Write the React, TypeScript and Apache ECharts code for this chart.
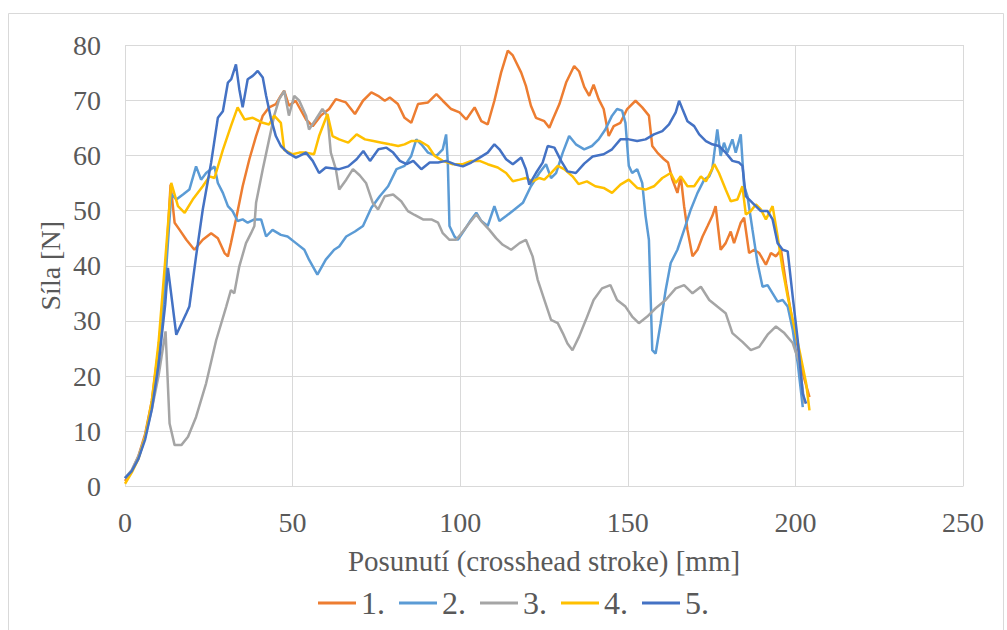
import React, { useEffect, useRef } from "react";
import * as echarts from "echarts";

// Crosshead stroke [mm] / force [N] readings for the five specimens
const x1 = [0, 2, 4, 6, 8, 10, 12, 13.6, 14.8, 16.3, 18.3, 20.7, 23.2, 25.7, 27.7, 29.7, 30.7, 31.6, 33.1, 35.1, 37.1, 39.1, 41.1, 43, 45, 46.5, 47.5, 48.9, 50.9, 54, 56, 58.4, 60.9, 62.9, 65.9, 68.6, 71, 73.5, 75.5, 77.5, 79, 81.4, 83.4, 85.4, 87.4, 90.4, 92.9, 94.8, 97.3, 99.8, 101.8, 104.3, 106.3, 108.2, 110.2, 112.2, 114.2, 115.7, 118.2, 119.6, 121.1, 122.6, 125.1, 126.6, 127.6, 129.6, 131.6, 134, 135.5, 137, 138.5, 139.8, 141.3, 142.8, 144.3, 145.8, 147.8, 149.8, 152.3, 154.3, 156.3, 157.3, 158.8, 160.8, 162, 163.3, 164.8, 165.8, 166.8, 167.8, 169.3, 170.8, 172.3, 173.8, 175.2, 176.2, 177.7, 179.2, 180.7, 181.7, 183.7, 184.7, 186.2, 187.7, 189.2, 191.2, 192.7, 194.2, 195.7, 197.2, 198.7, 200.7, 202.2, 204.2];
const y1 = [1, 2.8, 5.5, 9.5, 15.5, 25, 38, 54.7, 47.8, 46.5, 44.7, 42.9, 44.7, 45.9, 45, 42.3, 41.7, 44.1, 48.4, 54.4, 59.3, 63.5, 67.2, 68.7, 69.3, 70.8, 71.7, 69, 69.9, 66.5, 65.3, 67.2, 68.4, 70.2, 69.6, 67.5, 69.9, 71.4, 70.8, 69.9, 70.5, 69.3, 66.8, 65.9, 69.3, 69.6, 71.1, 69.9, 68.4, 67.8, 66.5, 68.7, 66.2, 65.6, 69.9, 75, 79, 78.1, 75, 72.6, 69, 66.8, 66.2, 65, 66.5, 69.3, 73.2, 76.2, 75.2, 72.4, 70.8, 72.8, 70.2, 68.4, 63.5, 65.3, 65.9, 68.4, 69.9, 68.7, 67.2, 61.7, 60.5, 59.3, 58.7, 55.6, 53.2, 56.2, 50.8, 46.5, 41.7, 42.9, 45.3, 47.2, 49, 50.8, 42.9, 44.1, 46.2, 44.1, 47.8, 48.7, 42.3, 42.9, 42.3, 40.2, 42.3, 41.7, 42.9, 36.8, 31.4, 25.3, 20.5, 16.2];

const x2 = [0, 2, 4, 6, 8, 10, 12, 13.8, 15.3, 17.3, 19.2, 21.2, 22.7, 24.2, 26.7, 27.7, 29.2, 30.7, 32.1, 33.6, 35.1, 36.6, 38.6, 40.6, 42.1, 44, 46.5, 48.5, 51, 53.5, 54.9, 57.4, 59.9, 62.4, 63.9, 66, 68.6, 71, 73.5, 76, 78.5, 81, 83.4, 85.4, 86.9, 88.4, 90.4, 92.9, 94.8, 95.8, 96.3, 96.8, 98.3, 99.3, 101.3, 103.3, 104.8, 106.3, 108.2, 110.2, 111.7, 113.7, 116.2, 118.7, 121.1, 123.6, 125.6, 127.1, 128.6, 130.6, 132.5, 134.5, 137, 139.3, 141.3, 143.3, 145.3, 146.8, 148.3, 149.3, 150.3, 151.3, 152.8, 154.3, 155.3, 156.3, 157.3, 158.3, 159.8, 161.3, 162.8, 164.8, 166.8, 168.8, 170.8, 172.8, 174.3, 175.2, 176.7, 177.7, 178.7, 179.7, 181.2, 182.2, 183.7, 184.7, 185.7, 187.2, 188.7, 190.2, 191.7, 193.2, 194.7, 196.2, 197.7, 199.2, 200.7, 202.2];
const y2 = [1.5, 2.8, 5.2, 9, 15, 24, 37, 53, 52, 52.9, 53.8, 58, 55.6, 56.8, 58, 55, 53.2, 50.8, 49.9, 48.1, 48.4, 47.8, 48.4, 48.4, 45.3, 46.5, 45.6, 45.3, 44.1, 42.9, 41.1, 38.4, 41.1, 42.9, 43.5, 45.3, 46.2, 47.2, 50.5, 52.6, 54.4, 57.5, 58.1, 59.9, 62.9, 62, 60.5, 59.9, 61.1, 63.8, 58.7, 47.2, 45.3, 44.7, 46.5, 48.4, 49.6, 48.1, 47.2, 50.8, 48.1, 49, 50.2, 51.4, 54.4, 56.8, 58.4, 55.9, 56.8, 60.5, 63.5, 62, 61.1, 61.7, 62.9, 64.7, 67.2, 68.4, 68.1, 65.9, 58.1, 56.8, 57.5, 55, 49, 44.7, 24.7, 24.1, 29.6, 35.6, 40.5, 42.9, 46.5, 50.2, 53.2, 55.6, 56.2, 57.5, 64.7, 59.9, 62.3, 60.5, 62.9, 60.5, 63.8, 54.4, 52.6, 46.5, 40.5, 36.2, 36.5, 35, 33.5, 33.8, 32.6, 28.4, 22.3, 14.4];

const x3 = [0, 2, 4, 6, 8, 10, 12.1, 13.3, 14.8, 16.8, 18.8, 21.2, 24.2, 27.2, 30.2, 31.6, 32.6, 34.1, 36.1, 37.6, 38.6, 39.1, 41.1, 43, 44.5, 46, 47.5, 48.9, 50.5, 52, 54, 54.9, 56.9, 58.9, 60.4, 61.4, 62.9, 63.9, 66, 68, 70, 71.9, 73.9, 75.5, 77.5, 80, 82.4, 84.4, 86.4, 88.9, 91.4, 93.4, 94.8, 96.8, 98.8, 100.8, 102.8, 104.8, 106.7, 108.7, 110.7, 112.7, 115.2, 117.7, 119.6, 121.6, 123.1, 125.1, 127.1, 129.1, 130.6, 132, 133.5, 135.5, 137.5, 139.8, 142.3, 144.8, 146.8, 149.3, 151.3, 153.3, 155.8, 158.3, 161.3, 164.3, 166.8, 169.3, 171.8, 174.3, 176.7, 179.2, 181.2, 184.2, 186.7, 189.2, 191.7, 194.2, 196.7, 199.2, 201.2, 202.7];
const y3 = [1.5, 3, 5.5, 9, 14, 20, 28.1, 11.4, 7.5, 7.5, 9, 12.6, 18.7, 26.5, 32.6, 35.6, 35, 39.9, 44.1, 45.9, 47.2, 51.4, 57.5, 62.9, 67.2, 70.2, 71.7, 67.2, 70.8, 69.9, 67.2, 64.7, 66.5, 68.4, 67.2, 60.5, 57.5, 53.8, 55.6, 57.5, 56.4, 55, 51.4, 50.2, 52.6, 52.9, 51.7, 49.9, 49.2, 48.4, 48.4, 47.8, 45.9, 44.7, 44.7, 46.2, 47.8, 49.3, 47.8, 46.5, 45, 43.8, 42.9, 44.1, 44.7, 41.7, 37.5, 33.8, 30.2, 29.6, 27.8, 25.9, 24.7, 27.2, 30.2, 33.8, 35.9, 36.5, 33.8, 32.6, 30.8, 29.6, 30.8, 32.3, 33.8, 35.9, 36.5, 35, 36.2, 33.8, 32.6, 31.4, 27.8, 26.2, 24.7, 25.3, 27.5, 29, 27.8, 26, 22.3, 15];

const x4 = [0, 2, 4, 6, 8, 10, 12, 13.8, 15.8, 17.8, 20.2, 23.2, 25.2, 26.7, 29.2, 31.6, 33.6, 35.7, 38.1, 41.1, 43, 44.5, 46.5, 47.5, 50, 52, 54, 56.4, 57.9, 60.4, 61.9, 63.9, 66.6, 69.1, 71.6, 74.1, 76.6, 79, 81.5, 83.4, 85.4, 87.9, 90.4, 92.4, 94.8, 97.8, 100.8, 103.3, 105.8, 108.2, 111.2, 113.7, 115.7, 117.7, 119.6, 121.6, 123.6, 125.1, 127.1, 129.1, 131, 133.5, 135.3, 137.8, 140.3, 142.8, 145.3, 147.8, 150.3, 152.8, 155.3, 157.8, 160.3, 162.8, 164.3, 165.8, 167.8, 169.8, 171.8, 173.3, 174.8, 175.8, 177.2, 179.2, 180.7, 182.7, 184.2, 185.2, 186.7, 188.2, 189.7, 191.2, 193.2, 194.7, 196.2, 197.7, 199.2, 201.2, 203.2, 204.2];
const y4 = [0.5, 2.5, 5, 9, 15.5, 26, 41, 55, 50.8, 49.6, 52, 54.4, 56.2, 55.9, 61, 65.3, 68.7, 66.5, 66.8, 65.9, 65.6, 67.2, 65.9, 61, 60.2, 60.5, 60.5, 60.2, 63.5, 67.5, 63.5, 62.9, 62.3, 63.8, 62.9, 62.6, 62.3, 62, 61.7, 62, 62.6, 62.6, 61.7, 59.9, 59, 58.4, 58.4, 59, 59, 58.4, 57.8, 56.8, 55.3, 55.6, 55.9, 55.3, 55.9, 55.6, 56.8, 58.1, 57.5, 56.2, 54.8, 55.3, 54.4, 54.1, 53.2, 54.7, 55.6, 54.1, 53.8, 54.4, 55.9, 56.8, 55, 56.2, 54.4, 54.4, 56.2, 55.3, 57.1, 58.4, 56.8, 53.8, 51.7, 52, 54.4, 49.3, 49.9, 51.1, 50.2, 48.4, 50.8, 45.3, 39.3, 34.4, 30.2, 24.7, 18.7, 13.8];

const x5 = [0, 2, 4, 6, 8, 10, 12, 12.8, 15.3, 18.3, 19.2, 21.2, 23.2, 25.7, 27.7, 29.2, 30.7, 31.7, 33.1, 34.1, 35.1, 36.6, 38.1, 39.6, 41.1, 42.1, 43.5, 45, 46.5, 48.5, 51, 54, 56, 57.9, 59.9, 63.9, 66.6, 69.1, 71.1, 73.1, 75.6, 78, 80, 82, 84, 86, 88.4, 90.9, 93.4, 95.8, 98.3, 100.8, 103.3, 105.8, 108.2, 110.2, 111.7, 113.7, 115.7, 118.2, 119.6, 120.6, 122.6, 124.6, 126.1, 128.1, 130.1, 132, 134.5, 137, 139.5, 142.8, 145.3, 147.8, 150.3, 152.8, 155.3, 157.8, 160.3, 162.3, 164.3, 165.3, 166.3, 167.8, 169.8, 171.3, 173.3, 175.2, 177.2, 179.2, 181.2, 183.2, 184.2, 185.2, 187.2, 189.7, 191.7, 193.2, 194.7, 196.2, 197.7, 199.2, 200.7, 202.2, 203.2];
const y5 = [1.5, 2.8, 5, 8.5, 14, 22, 33, 39.6, 27.5, 31.4, 32.6, 41.7, 50.2, 58.7, 66.8, 68, 73.2, 73.8, 76.5, 72, 68.7, 73.8, 74.4, 75.3, 74.1, 70.8, 66.8, 63.5, 61.7, 60.5, 59.6, 60.5, 59, 56.8, 57.8, 57.5, 58, 59.3, 60.8, 59, 61.1, 61.4, 60.5, 59, 58.4, 59, 57.5, 58.7, 58.7, 59, 58.4, 58, 58.7, 59.6, 60.5, 62, 61.1, 59.3, 58.4, 59.6, 57.5, 54.7, 56.8, 58.7, 61.7, 61.4, 59, 57.1, 56.8, 58.5, 59.8, 60.2, 61.1, 62.9, 62.9, 62.6, 62.9, 63.8, 64.4, 65.6, 67.8, 69.9, 68.4, 66.2, 65.3, 63.8, 62.6, 62, 61.7, 60.5, 59, 58.7, 58.1, 52.6, 51.4, 49.9, 49.9, 48.4, 44.1, 42.9, 42.6, 34.4, 26.5, 16.8, 15];

const seriesNames = ["1.", "2.", "3.", "4.", "5."];
const seriesColors = ["#ED7D31", "#5B9BD5", "#A5A5A5", "#FFC000", "#4472C4"];
const seriesX = [x1, x2, x3, x4, x5];
const seriesY = [y1, y2, y3, y4, y5];

const xTicks = [0, 50, 100, 150, 200, 250];
const yTicks = [0, 10, 20, 30, 40, 50, 60, 70, 80];
const yTitle = "Síla [N]";

const FONT = "Liberation Serif";
const TEXT = "#595959";
const GRID = "#D9D9D9";

// Serif face for every text node of the SVG chart
const CHART_CSS = `.force-chart svg text, .force-chart svg tspan { font-family: "Liberation Serif", "Times New Roman", serif !important; }`;

const frame = {
  id: "frame",
  type: "rect",
  shape: { x: 8.5, y: 13.5, width: 995, height: 640 },
  style: { fill: "none", stroke: GRID, lineWidth: 1 },
  silent: true,
};

function label(text: string, x: number, y: number, align: string, vAlign: string, rotation = 0) {
  return {
    type: "text",
    x,
    y,
    rotation,
    style: {
      text,
      fontFamily: FONT,
      fontSize: 28,
      fill: TEXT,
      align,
      verticalAlign: vAlign,
    },
  };
}

export default function App() {
  const ref = useRef<HTMLDivElement>(null);

  useEffect(() => {
    if (!ref.current) return;
    const chart = echarts.init(ref.current, undefined, { renderer: "svg" });
    chart.setOption({
      animation: false,
      backgroundColor: "#ffffff",
      textStyle: { fontFamily: FONT },
      graphic: [frame],
      grid: { left: 125, right: 44, top: 45, bottom: 143.5, containLabel: false },
      xAxis: {
        type: "value",
        min: xTicks[0],
        max: xTicks[xTicks.length - 1],
        interval: 50,
        name: "Posunutí (crosshead stroke) [mm]",
        nameLocation: "middle",
        nameGap: 60,
        nameTextStyle: { fontFamily: FONT, fontSize: 29, color: TEXT },
        axisLine: { show: false },
        axisTick: { show: false },
        axisLabel: { show: false },
        splitLine: { show: true, lineStyle: { color: GRID, width: 1 } },
      },
      yAxis: {
        type: "value",
        min: yTicks[0],
        max: yTicks[yTicks.length - 1],
        interval: 10,
        axisLine: { show: false },
        axisTick: { show: false },
        axisLabel: { show: false },
        splitLine: { show: true, lineStyle: { color: GRID, width: 1 } },
      },
      legend: {
        data: seriesNames,
        top: 582,
        left: 313,
        icon: "rect",
        itemWidth: 38,
        itemHeight: 3,
        itemGap: 14,
        textStyle: { fontFamily: FONT, fontSize: 32, color: TEXT },
      },
      series: seriesNames.map((name, i) => ({
        name,
        type: "line",
        data: seriesX[i].map((x, j) => [x, seriesY[i][j]]),
        showSymbol: false,
        smooth: false,
        color: seriesColors[i],
        lineStyle: { color: seriesColors[i], width: 2.5 },
      })),
    });

    // Tick labels and the force title, placed through the grid's own scales
    const toPx = (x: number, y: number) =>
      chart.convertToPixel({ gridIndex: 0 }, [x, y]) as number[];
    const xLabels = xTicks.map((v) => {
      const p = toPx(v, yTicks[0]);
      return label(String(v), p[0], p[1] + 22, "center", "top");
    });
    const yLabels = yTicks.map((v) => {
      const p = toPx(xTicks[0], v);
      return label(String(v), p[0] - 24, p[1], "right", "middle");
    });
    const mid = toPx(xTicks[0], (yTicks[0] + yTicks[yTicks.length - 1]) / 2);
    const yName = label(yTitle, mid[0] - 75, mid[1], "center", "middle", Math.PI / 2);
    chart.setOption({ graphic: [frame, ...xLabels, ...yLabels, yName] }, { replaceMerge: ["graphic"] });

    return () => chart.dispose();
  }, []);

  return (
    <>
      <style>{CHART_CSS}</style>
      <div
        ref={ref}
        className="force-chart"
        style={{ position: "fixed", left: 0, top: 0, width: 1007, height: 630 }}
      />
    </>
  );
}
